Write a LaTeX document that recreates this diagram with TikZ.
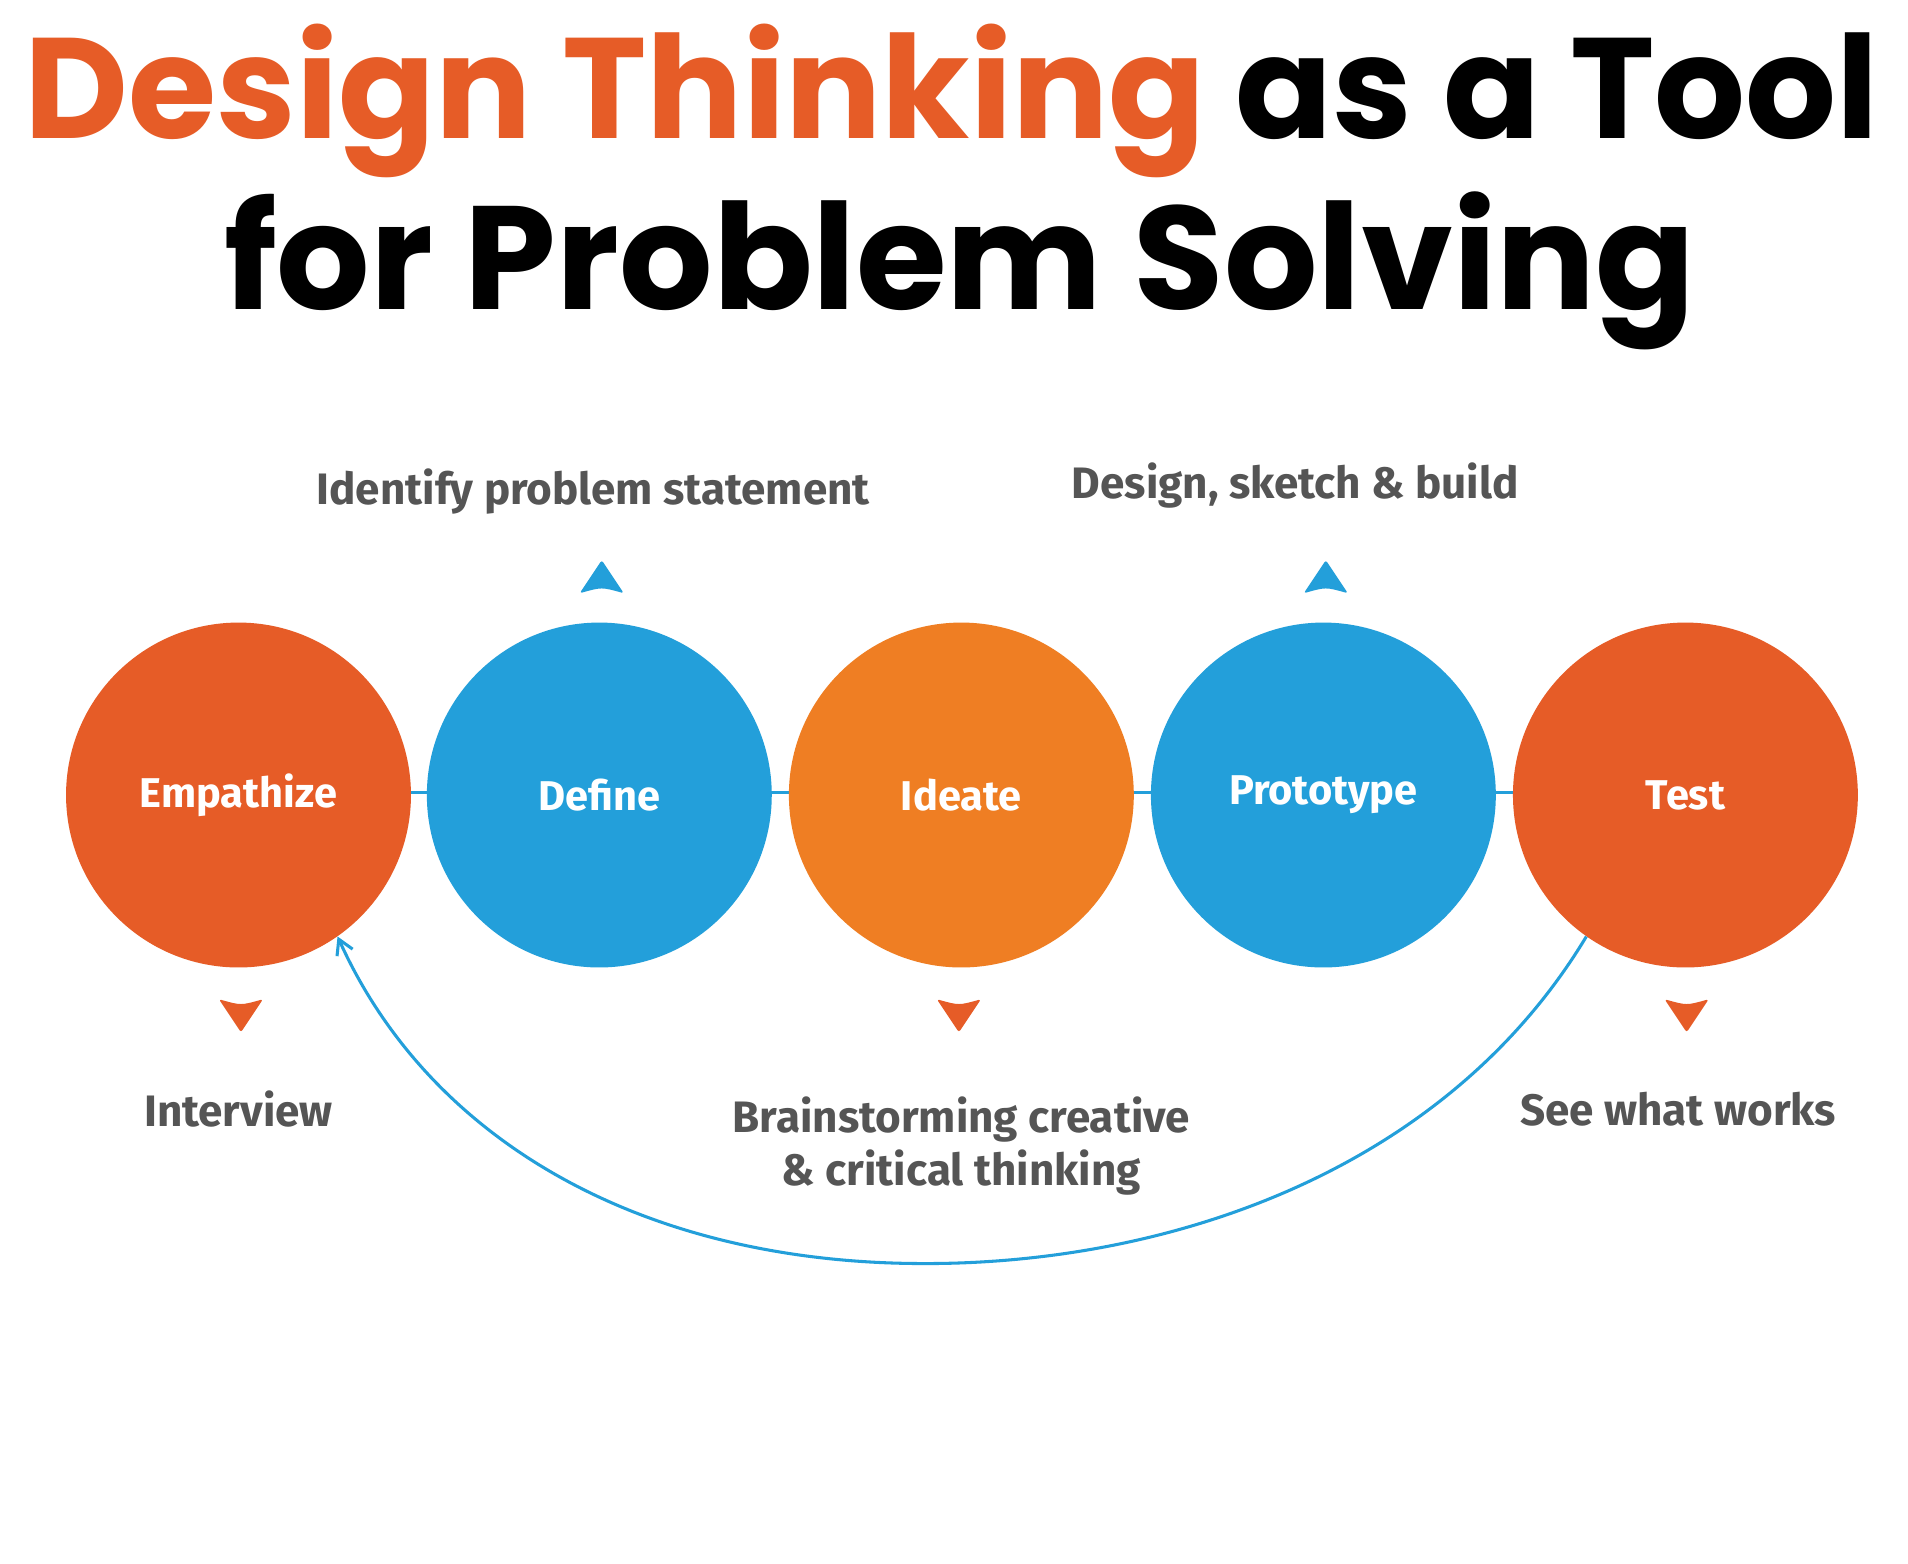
\documentclass[tikz,border=0pt]{standalone}
\usepackage{fontspec}
\setmainfont{Fira Sans}
\newfontfamily\titlefont{Poppins}
\usetikzlibrary{arrows.meta}
\definecolor{cred}{HTML}{E65C27}
\definecolor{cblue}{HTML}{239FDA}
\definecolor{corange}{HTML}{EF7E23}
\definecolor{cgray}{HTML}{555555}
\tikzset{
  stage/.style={circle,minimum size=282pt,inner sep=0pt,text=white,font=\fontsize{34}{34}\selectfont\bfseries},
  note/.style={text=cgray,font=\fontsize{36}{44}\selectfont\bfseries,align=center},
  link/.style={cblue,line width=2.5pt},
}
\newcommand{\uptip}[3]{\fill[#3,rounded corners=2pt] (#1,#2) -- (#1+18,#2+27) .. controls (#1,#2+22) .. (#1-18,#2+27) -- cycle;}
\newcommand{\downtip}[3]{\fill[#3,rounded corners=2pt] (#1,#2) -- (#1+18,#2-27) .. controls (#1,#2-22) .. (#1-18,#2-27) -- cycle;}
\begin{document}
\begin{tikzpicture}[x=1pt,y=-1pt]
\useasboundingbox[fill=white] (0,0) rectangle (1560,1278);
\node[anchor=base west,inner sep=0pt] (t1) at (20,113) {\resizebox{1515pt}{!}{\titlefont\bfseries\textcolor{cred}{Design Thinking} as a Tool}};
\node[anchor=base west,inner sep=0pt] (t2) at (183,253) {\resizebox{1202pt}{!}{\titlefont\bfseries for Problem Solving}};
\draw[link] (195,648) -- (1378,648);
\node[stage,fill=cred] (emp) at (195,650) {Empathize};
\node[stage,fill=cblue] (def) at (490,650) {Define};
\node[stage,fill=corange] (ide) at (786,650) {Ideate};
\node[stage,fill=cblue] (pro) at (1082,650) {Prototype};
\node[stage,fill=cred] (tes) at (1378,650) {Test};
\uptip{492}{458}{cblue}
\uptip{1084}{458}{cblue}
\downtip{197}{844}{cred}
\downtip{784}{844}{cred}
\downtip{1379}{844}{cred}
\node[note] (n1) at (485,402) {Identify problem statement};
\node[note] (n2) at (1059,397) {Design, sketch \& build};
\node[note] (n3) at (195,907) {Interview};
\node[note] (n4) at (786,937) {Brainstorming creative\\\& critical thinking};
\node[note] (n5) at (1372,907) {See what works};
\coordinate (a) at (tes.-125);
\coordinate (b) at (emp.-55);
\draw[cblue,line width=2.5pt,-{Straight Barb[length=12pt,width=14pt,line width=2.5pt]}] (a) .. controls (1180,960) and (950,1036) .. (745,1033) .. controls (520,1030) and (350,930) .. (b);
\end{tikzpicture}
\end{document}
